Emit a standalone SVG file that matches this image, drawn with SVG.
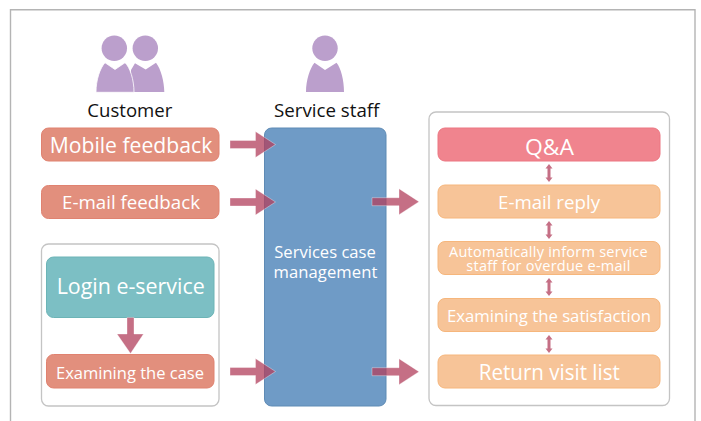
<svg xmlns="http://www.w3.org/2000/svg" width="701" height="421" viewBox="0 0 701 421">
<defs>
<style>
text{font-family:"Open Sans","Noto Sans","Liberation Sans",sans-serif;text-anchor:middle}
.w{fill:#fff;font-weight:400}
.k{fill:#111;font-size:18.7px}
.panel{fill:#fff;stroke:#c4c4c4;stroke-width:1.3}
.red{fill:#e28f7d;stroke:#e08270;stroke-width:1}
.teal{fill:#7cbfc4;stroke:#6cb4b6;stroke-width:1}
.blue{fill:#6f9bc6;stroke:#5f8bb5;stroke-width:1}
.pink{fill:#f0848e;stroke:#ec7682;stroke-width:1}
.org{fill:#f7c498;stroke:#f6b67c;stroke-width:1}
.per{fill:#bb9fcc}
.arr{fill:#b13f5c;fill-opacity:.75;stroke:#fff;stroke-opacity:.5;stroke-width:.7}
.sm{fill:#b13f5c;fill-opacity:.75}
</style>
<path id="big" d="M-45.500-4H-20V-13L0 0-20 13V4H-45.500Z"/>
<path id="big2" d="M-47-4H-20V-13L0 0-20 13V4H-47Z"/>
<path id="dbl" d="M0 0L3.500 4.500H1.500V13.500H3.500L0 18-3.500 13.500H-1.500V4.500H-3.500Z"/>
</defs>
<rect width="701" height="421" fill="#fff"/>
<path d="M10.500 421V9.800H695V421" fill="none" stroke="#b4b4b4" stroke-width="1.400"/>
<g id="customer">
<circle class="per" cx="145.300" cy="48.300" r="12.700"/>
<path class="per" d="M135 63.300L145.700 69.500 156 62.700C161 69 164.300 82 164.300 92H131V70Z"/>
<circle class="per" cx="114.300" cy="48.300" r="12.700"/>
<path class="per" stroke="#fff" stroke-width=".8" d="M105 62.700L115 69.500 125 62.700C130 67 134 80 134 92.300H96C96 80 100 68 105 62.700Z"/>
<text class="k" x="129.800" y="116.700" textLength="85" lengthAdjust="spacingAndGlyphs">Customer</text>
</g>
<g id="staff">
<circle class="per" cx="325" cy="48.300" r="12.700"/>
<path class="per" d="M314.500 62.700L325 70 336.500 62.700C341 68 344 80 344 92H306C306 80 310 68 314.500 62.700Z"/>
<text class="k" x="326.700" y="117" textLength="105.500" lengthAdjust="spacingAndGlyphs">Service staff</text>
</g>
<g id="left-panel"><rect class="panel" x="41.500" y="244" width="177.500" height="162" rx="7"/></g>
<g id="right-panel"><rect class="panel" x="429" y="112" width="240.500" height="293.500" rx="7"/></g>
<g id="mobile"><rect class="red" x="41.500" y="128" width="177.500" height="33" rx="7"/><text class="w" x="131" y="153" font-size="22" textLength="162.500" lengthAdjust="spacingAndGlyphs">Mobile feedback</text></g>
<g id="email"><rect class="red" x="41.500" y="185.500" width="177.500" height="33" rx="7"/><text class="w" x="131" y="209.300" font-size="18.700" textLength="138" lengthAdjust="spacingAndGlyphs">E-mail feedback</text></g>
<g id="login"><rect class="teal" x="46.500" y="257" width="167.500" height="60.500" rx="7"/><text class="w" x="130.700" y="294" font-size="22" textLength="148" lengthAdjust="spacingAndGlyphs">Login e-service</text></g>
<g id="case"><rect class="red" x="46.500" y="354.500" width="167.500" height="33.500" rx="7"/><text class="w" x="130" y="379" font-size="16.500" textLength="148" lengthAdjust="spacingAndGlyphs">Examining the case</text></g>
<g id="services"><rect class="blue" x="264.500" y="128" width="121.500" height="278" rx="7"/><text class="w" font-size="16.600"><tspan x="325" y="258">Services case</tspan><tspan x="325.500" y="277.700" letter-spacing=".1">management</tspan></text></g>
<g id="qa"><rect class="pink" x="438" y="128" width="222" height="33" rx="7"/><text class="w" x="549.500" y="154.500" font-size="22" textLength="49" lengthAdjust="spacingAndGlyphs">Q&amp;A</text></g>
<g id="reply"><rect class="org" x="438" y="185" width="222" height="33" rx="7"/><text class="w" x="549" y="208.500" font-size="18.700" textLength="102" lengthAdjust="spacingAndGlyphs">E-mail reply</text></g>
<g id="inform"><rect class="org" x="438" y="241.500" width="222" height="33" rx="7"/><text class="w" font-size="14.500"><tspan x="548.500" y="257.300" letter-spacing=".25">Automatically inform service</tspan><tspan x="548.500" y="270.700" letter-spacing=".25">staff for overdue e-mail</tspan></text></g>
<g id="satisfaction"><rect class="org" x="438" y="298.500" width="222" height="33" rx="7"/><text class="w" x="549" y="321.500" font-size="16.600" textLength="204" lengthAdjust="spacingAndGlyphs">Examining the satisfaction</text></g>
<g id="return"><rect class="org" x="438" y="355" width="222" height="33" rx="7"/><text class="w" x="549.300" y="379.500" font-size="22" textLength="141" lengthAdjust="spacingAndGlyphs">Return visit list</text></g>
<g id="connectors">
<use href="#big" class="arr" transform="translate(275.500 144.500)"/>
<use href="#big" class="arr" transform="translate(275.500 202)"/>
<use href="#big" class="arr" transform="translate(275.500 371.500)"/>
<use href="#big2" class="arr" transform="translate(419 201.700)"/>
<use href="#big2" class="arr" transform="translate(419 371.700)"/>
<path class="arr" d="M127 317.500H134V334H143.500L130.500 353.500 117 334H127Z"/>
<use href="#dbl" class="sm" transform="translate(549 164)"/>
<use href="#dbl" class="sm" transform="translate(549 221)"/>
<use href="#dbl" class="sm" transform="translate(549 278)"/>
<use href="#dbl" class="sm" transform="translate(549 335)"/>
</g>
</svg>
